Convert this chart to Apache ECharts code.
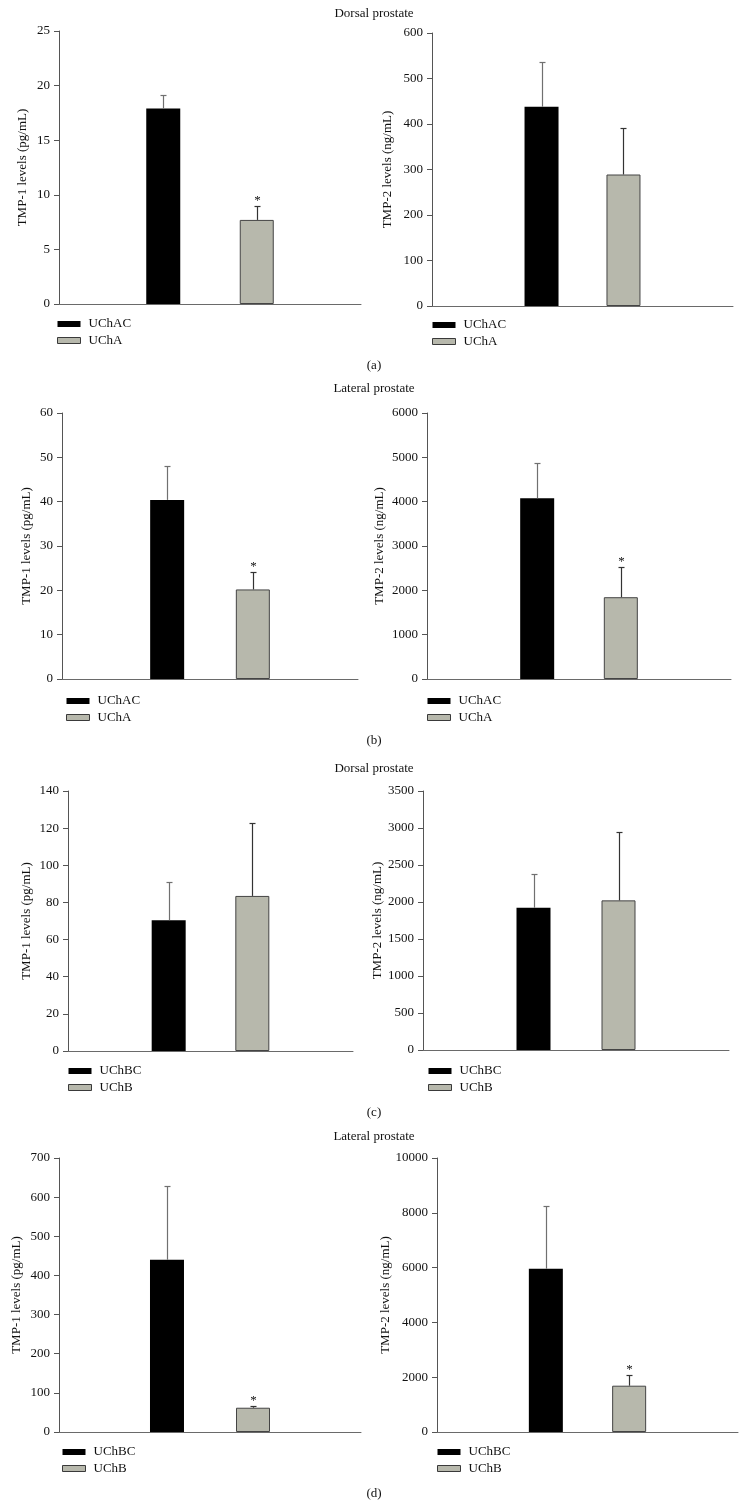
<!DOCTYPE html>
<html>
<head>
<meta charset="utf-8">
<script src="https://cdn.jsdelivr.net/npm/echarts@6/dist/echarts.min.js"></script>
<style>
  html, body { margin: 0; padding: 0; background: #ffffff; }
  #chart { width: 747px; height: 1508px; }
</style>
</head>
<body>
<div id="chart"></div>
<script>
// ---------------- DATA ----------------
const sectionTitles = ['Dorsal prostate', 'Lateral prostate', 'Dorsal prostate', 'Lateral prostate'];
const panelLetters = ['(a)', '(b)', '(c)', '(d)'];
const controlNames = ['UChAC', 'UChAC', 'UChAC', 'UChAC', 'UChBC', 'UChBC', 'UChBC', 'UChBC'];
const treatedNames = ['UChA', 'UChA', 'UChA', 'UChA', 'UChB', 'UChB', 'UChB', 'UChB'];
const yAxisNames = [
  'TMP-1 levels (pg/mL)', 'TMP-2 levels (ng/mL)',
  'TMP-1 levels (pg/mL)', 'TMP-2 levels (ng/mL)',
  'TMP-1 levels (pg/mL)', 'TMP-2 levels (ng/mL)',
  'TMP-1 levels (pg/mL)', 'TMP-2 levels (ng/mL)'
];
const yMax = [25, 600, 60, 6000, 140, 3500, 700, 10000];
const yStep = [5, 100, 10, 1000, 20, 500, 100, 2000];
const controlMean = [17.9, 438, 40.4, 4075, 70.4, 1922, 440, 5960];
const controlSem = [1.2, 98, 7.6, 805, 20.6, 459, 188, 2288];
const treatedMean = [7.7, 289, 20.2, 1845, 83.5, 2022, 62, 1690];
const treatedSem = [1.3, 103, 3.9, 690, 39.4, 921, 5, 401];
const treatedSignificant = [true, false, true, true, false, false, true, true];

// ---------------- LAYOUT / STYLE ----------------
const FONT = '"Liberation Serif", "DejaVu Serif", serif';
const TEXT = '#111';
const BAR_W = 34;
const GRAY = '#b7b8ac';
const layout = [
  { left: 59,  top: 31,   width: 302, height: 273, gap: 1.75, nameGap: 30, lgLeft: 57,  lgTop: 317 },
  { left: 432, top: 33,   width: 301, height: 273, gap: 1.41, nameGap: 38, lgLeft: 432, lgTop: 318 },
  { left: 62,  top: 413,  width: 296, height: 266, gap: 1.52, nameGap: 29, lgLeft: 66,  lgTop: 694 },
  { left: 427, top: 413,  width: 304, height: 266, gap: 1.46, nameGap: 41, lgLeft: 427, lgTop: 694 },
  { left: 68,  top: 791,  width: 285, height: 260, gap: 1.46, nameGap: 35, lgLeft: 68,  lgTop: 1064 },
  { left: 423, top: 791,  width: 306, height: 259, gap: 1.50, nameGap: 39, lgLeft: 428, lgTop: 1064 },
  { left: 59,  top: 1158, width: 302, height: 274, gap: 1.53, nameGap: 36, lgLeft: 62,  lgTop: 1445 },
  { left: 437, top: 1158, width: 301, height: 274, gap: 1.45, nameGap: 43, lgLeft: 437, lgTop: 1445 }
];
const titleY = [14, 389, 769, 1137];
const letterY = [366, 741, 1113, 1494];

const grids = [], xAxes = [], yAxes = [], series = [], legends = [], graphics = [];

layout.forEach(function (L, i) {
  grids.push({ left: L.left, top: L.top, width: L.width, height: L.height, containLabel: false });
  xAxes.push({
    type: 'category', gridIndex: i, data: [''], boundaryGap: true,
    axisLine: { show: true, lineStyle: { color: '#6a6a6a', width: 1 } },
    axisTick: { show: false }, axisLabel: { show: false }, splitLine: { show: false }
  });
  yAxes.push({
    type: 'value', gridIndex: i, min: 0, max: yMax[i], interval: yStep[i],
    name: yAxisNames[i], nameLocation: 'middle', nameGap: L.nameGap,
    nameTextStyle: { fontFamily: FONT, fontSize: 13, color: TEXT },
    axisLine: { show: true, lineStyle: { color: '#555', width: 1 } },
    axisTick: { show: true, length: 5, lineStyle: { color: '#555' } },
    axisLabel: { fontFamily: FONT, fontSize: 13, color: TEXT, margin: 9, formatter: function (v) { return String(v); } },
    splitLine: { show: false }
  });
  series.push({
    type: 'bar', name: controlNames[i], xAxisIndex: i, yAxisIndex: i,
    data: [controlMean[i]], barWidth: BAR_W, barGap: (L.gap * 100) + '%',
    itemStyle: { color: '#000000' }, z: 2
  });
  series.push({
    type: 'bar', name: treatedNames[i], xAxisIndex: i, yAxisIndex: i,
    data: [treatedMean[i]], barWidth: BAR_W, barGap: (L.gap * 100) + '%',
    itemStyle: { color: GRAY, borderColor: '#444', borderWidth: 1 }, z: 2
  });
  const off = BAR_W * (1 + L.gap) / 2;
  series.push({
    type: 'custom', xAxisIndex: i, yAxisIndex: i, z: 5, silent: true,
    data: [
      [0, controlMean[i], controlSem[i], 0, 0],
      [0, treatedMean[i], treatedSem[i], treatedSignificant[i] ? 1 : 0, 1]
    ],
    encode: { x: 0, y: 1 },
    renderItem: function (params, api) {
      const g = api.value(4);
      const mean = api.value(1), sem = api.value(2), sig = api.value(3);
      const base = api.coord([0, mean]);
      const top = api.coord([0, mean + sem]);
      const x = Math.round(base[0] + (g === 0 ? -off : off)) + 0.5;
      const col = g === 0 ? '#707070' : '#333333';
      const ty = Math.round(top[1]) + 0.5;
      const children = [
        { type: 'line', shape: { x1: x, y1: base[1], x2: x, y2: ty }, style: { stroke: col, lineWidth: 1.2 } },
        { type: 'line', shape: { x1: x - 3, y1: ty, x2: x + 3, y2: ty }, style: { stroke: col, lineWidth: 1.2 } }
      ];
      if (sig) {
        children.push({
          type: 'text', x: x, y: ty - 6,
          style: { text: '*', fill: TEXT, font: '13px ' + FONT, align: 'center', verticalAlign: 'middle' }
        });
      }
      return { type: 'group', children: children };
    }
  });
  legends.push({
    data: [
      { name: controlNames[i], itemStyle: { color: '#000', borderWidth: 0 } },
      { name: treatedNames[i], itemStyle: { color: GRAY, borderColor: '#3a3a3a', borderWidth: 1 } }
    ],
    orient: 'vertical', left: L.lgLeft, top: L.lgTop,
    icon: 'rect', itemWidth: 23, itemHeight: 6, itemGap: 2.5,
    padding: 0, selectedMode: false,
    textStyle: { fontFamily: FONT, fontSize: 13, color: TEXT, lineHeight: 14, padding: [0, 0, 0, 3] }
  });
});

sectionTitles.forEach(function (t, k) {
  graphics.push({
    type: 'text', x: 374, y: titleY[k],
    style: { text: t, fill: TEXT, font: '13px ' + FONT, align: 'center', verticalAlign: 'middle' }
  });
  graphics.push({
    type: 'text', x: 374, y: letterY[k],
    style: { text: panelLetters[k], fill: TEXT, font: '13px ' + FONT, align: 'center', verticalAlign: 'middle' }
  });
});

const chart = echarts.init(document.getElementById('chart'), null, { renderer: 'canvas', width: 747, height: 1508 });
chart.setOption({
  backgroundColor: '#ffffff',
  animation: false,
  grid: grids, xAxis: xAxes, yAxis: yAxes, series: series, legend: legends, graphic: graphics
});
</script>
</body>
</html>
